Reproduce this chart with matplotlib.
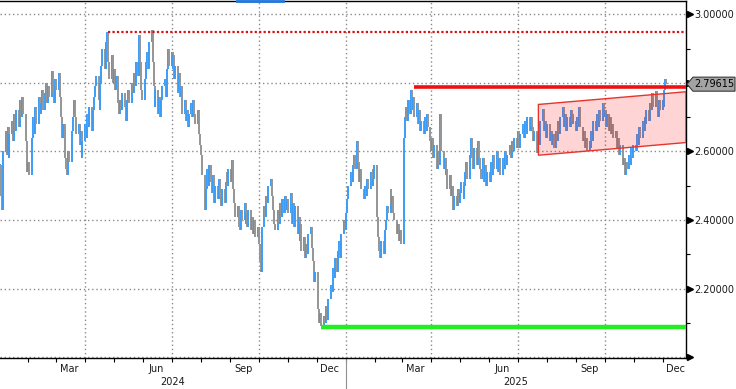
import matplotlib
matplotlib.use("Agg")
import matplotlib.pyplot as plt
import matplotlib.dates as mdates
from matplotlib.patches import Polygon
from matplotlib.lines import Line2D
from matplotlib.transforms import blended_transform_factory
import numpy as np
import pandas as pd
import datetime as dt

# ---------------- data (daily closes, business days) ----------------
close_2024 = [
    # Jan
    2.56, 2.47, 2.43, 2.60, 2.66, 2.59, 2.67, 2.58, 2.65, 2.69, 2.63, 2.71, 2.66, 2.72, 2.67, 2.75, 2.70, 2.76, 2.71, 2.63, 2.59, 2.54,
    # Feb
    2.57, 2.53, 2.64, 2.70, 2.65, 2.73, 2.68, 2.76, 2.71, 2.74, 2.78, 2.72, 2.77, 2.80, 2.74, 2.79, 2.76, 2.835, 2.77, 2.74, 2.81,
    # Mar
    2.78, 2.83, 2.76, 2.70, 2.64, 2.68, 2.58, 2.55, 2.53, 2.60, 2.57, 2.66, 2.70, 2.75, 2.70, 2.65, 2.68, 2.62, 2.66, 2.58, 2.63,
    # Apr
    2.68, 2.64, 2.71, 2.67, 2.73, 2.66, 2.72, 2.76, 2.79, 2.82, 2.75, 2.72, 2.80, 2.85, 2.90, 2.84, 2.92, 2.948, 2.86, 2.81, 2.88, 2.80,
    # May
    2.84, 2.78, 2.82, 2.74, 2.71, 2.75, 2.72, 2.77, 2.73, 2.69, 2.75, 2.78, 2.74, 2.80, 2.77, 2.83, 2.79, 2.86, 2.82, 2.94, 2.86, 2.78, 2.75,
    # Jun
    2.81, 2.86, 2.89, 2.84, 2.92, 2.955, 2.86, 2.79, 2.73, 2.78, 2.71, 2.76, 2.70, 2.75, 2.79, 2.81, 2.76, 2.84, 2.90, 2.85,
    # Jul
    2.89, 2.84, 2.88, 2.81, 2.85, 2.77, 2.83, 2.76, 2.79, 2.71, 2.75, 2.69, 2.72, 2.67, 2.71, 2.74, 2.70, 2.75, 2.71, 2.68, 2.72, 2.65, 2.62,
    # Aug
    2.59, 2.53, 2.43, 2.49, 2.55, 2.50, 2.56, 2.51, 2.48, 2.53, 2.45, 2.50, 2.46, 2.52, 2.47, 2.44, 2.49, 2.45, 2.51, 2.54, 2.50, 2.55,
    # Sep
    2.51, 2.575, 2.49, 2.45, 2.41, 2.44, 2.38, 2.37, 2.43, 2.40, 2.45, 2.39, 2.42, 2.38, 2.43, 2.37, 2.41, 2.36, 2.40, 2.35, 2.38,
    # Oct
    2.33, 2.28, 2.25, 2.38, 2.44, 2.41, 2.47, 2.45, 2.50, 2.52, 2.47, 2.43, 2.39, 2.37, 2.43, 2.39, 2.45, 2.41, 2.46, 2.42, 2.47, 2.43, 2.46,
    # Nov
    2.42, 2.48, 2.39, 2.45, 2.38, 2.44, 2.36, 2.41, 2.34, 2.39, 2.31, 2.35, 2.29, 2.33, 2.30, 2.36, 2.38, 2.32, 2.28, 2.22, 2.25,
    # Dec
    2.17, 2.14, 2.10, 2.13, 2.09, 2.12, 2.10, 2.15, 2.11, 2.17, 2.21, 2.19, 2.26, 2.23, 2.29, 2.25, 2.31, 2.34, 2.29, 2.36, 2.40, 2.37,
]
close_2025 = [
    # Jan
    2.42, 2.46, 2.50, 2.54, 2.51, 2.56, 2.59, 2.55, 2.63, 2.57, 2.51, 2.55, 2.49, 2.46, 2.50, 2.47, 2.52, 2.49, 2.54, 2.50, 2.55, 2.52, 2.56,
    # Feb
    2.41, 2.35, 2.31, 2.29, 2.34, 2.30, 2.37, 2.40, 2.44, 2.42, 2.49, 2.45, 2.47, 2.42, 2.40, 2.36, 2.39, 2.34, 2.37, 2.33,
    # Mar
    2.64, 2.70, 2.73, 2.69, 2.75, 2.71, 2.78, 2.72, 2.76, 2.70, 2.74, 2.68, 2.72, 2.66, 2.69, 2.65, 2.70, 2.66, 2.71, 2.67, 2.63,
    # Apr
    2.60, 2.64, 2.58, 2.62, 2.55, 2.60, 2.56, 2.71, 2.60, 2.55, 2.58, 2.53, 2.55, 2.49, 2.53, 2.47, 2.50, 2.43, 2.47, 2.44, 2.49, 2.45,
    # May
    2.48, 2.51, 2.46, 2.50, 2.54, 2.57, 2.52, 2.59, 2.64, 2.58, 2.55, 2.61, 2.56, 2.63, 2.58, 2.55, 2.52, 2.58, 2.51, 2.56, 2.50, 2.54,
    # Jun
    2.51, 2.57, 2.53, 2.59, 2.55, 2.60, 2.54, 2.58, 2.55, 2.53, 2.58, 2.55, 2.60, 2.56, 2.59, 2.62, 2.58, 2.63, 2.60, 2.64, 2.61,
    # Jul
    2.62, 2.66, 2.61, 2.65, 2.68, 2.64, 2.69, 2.65, 2.70, 2.66, 2.70, 2.67, 2.63, 2.66, 2.61, 2.595, 2.65, 2.62, 2.69, 2.725, 2.66, 2.69, 2.64,
    # Aug
    2.68, 2.63, 2.66, 2.62, 2.65, 2.61, 2.66, 2.63, 2.69, 2.65, 2.70, 2.73, 2.67, 2.71, 2.66, 2.70, 2.67, 2.72, 2.68, 2.71, 2.69,
    # Sep
    2.66, 2.70, 2.67, 2.73, 2.67, 2.63, 2.66, 2.61, 2.64, 2.60, 2.63, 2.61, 2.66, 2.63, 2.69, 2.66, 2.71, 2.67, 2.72, 2.69, 2.74, 2.70,
    # Oct
    2.72, 2.67, 2.71, 2.66, 2.70, 2.65, 2.68, 2.64, 2.66, 2.61, 2.64, 2.59, 2.62, 2.56, 2.58, 2.53, 2.57, 2.55, 2.59, 2.56, 2.61, 2.58, 2.62,
    # Nov
    2.60, 2.65, 2.62, 2.67, 2.64, 2.69, 2.66, 2.70, 2.68, 2.72, 2.69, 2.74, 2.72, 2.77, 2.73, 2.775, 2.73, 2.70, 2.75, 2.72,
    # Dec
    2.75, 2.73, 2.78, 2.81, 2.79615,
]

y_ticks = [2.0, 2.2, 2.4, 2.6, 2.8, 3.0]
y_labels_shown = ["", "2.20000", "2.40000", "2.60000", "", "3.00000"]
month_labels = ["Mar", "Jun", "Sep", "Dec"]
year_labels = ["2024", "2025"]

last_price = 2.79615
high_level = 2.9477            # red dotted
high_level_start = "2024-04-25"
resist_level = 2.788           # red solid
resist_start = "2025-03-14"
support_level = 2.087          # green
support_start = "2024-12-06"
chan_start = "2025-07-23"
chan_upper = [2.737, 2.774]
chan_lower = [2.589, 2.626]

# ---------------- figure ----------------
W, H = 736, 389
fig = plt.figure(figsize=(W / 100, H / 100), dpi=100)
fig.patch.set_facecolor("white")
ax = fig.add_axes([0, 1 - 358 / H, 686 / W, 357.5 / H])
ax.set_facecolor("white")

closes = np.array(close_2024 + close_2025)
dates = pd.bdate_range("2024-01-02", periods=len(closes))
xd = mdates.date2num(dates.to_pydatetime())
prev = np.concatenate([[closes[0]], closes[:-1]])
lo = np.minimum(prev, closes)
hi = np.maximum(prev, closes)
hi = np.where(hi - lo < 0.004, hi + 0.004, hi)
cols = np.where(closes >= prev, "#3a9cf7", "#959595")

x_left = mdates.date2num(dt.datetime(2024, 1, 2))
x_right = mdates.date2num(dt.datetime(2025, 12, 25, 17))
ax.set_xlim(x_left, x_right)
ax.set_ylim(1.998, 3.04)

grid_kw = dict(color="#8a8a8a", lw=1.0, ls=(0, (1, 2)), zorder=1)
for yv in y_ticks:
    ax.axhline(yv, **grid_kw)
quarters = [dt.datetime(2024, 4, 1), dt.datetime(2024, 7, 1), dt.datetime(2024, 10, 1),
            dt.datetime(2025, 1, 1), dt.datetime(2025, 4, 1), dt.datetime(2025, 7, 1),
            dt.datetime(2025, 10, 1)]
for q in quarters:
    ax.axvline(mdates.date2num(q), **grid_kw)

ax.vlines(xd, lo, hi, colors=cols, lw=1.4, zorder=3)

# channel
cs = mdates.date2num(pd.Timestamp(chan_start).to_pydatetime())
poly = Polygon([[cs, chan_upper[0]], [x_right, chan_upper[1]],
                [x_right, chan_lower[1]], [cs, chan_lower[0]]],
               closed=True, facecolor=(1, 0.0, 0.0, 0.17), edgecolor="#e8332c",
               lw=1.0, zorder=4)
ax.add_patch(poly)

def xnum(s):
    return mdates.date2num(pd.Timestamp(s).to_pydatetime())

ax.plot([xnum(high_level_start), x_right], [high_level] * 2, color="#e01010",
        lw=1.6, ls=(0, (1, 1)), zorder=5)
ax.plot([xnum(resist_start), x_right], [resist_level] * 2, color="#ee1111",
        lw=2.6, zorder=5, solid_capstyle="butt")
ax.plot([xnum(support_start), x_right], [support_level] * 2, color="#22ee22",
        lw=3.2, zorder=5, solid_capstyle="butt")

# spines
ax.spines["left"].set_visible(False)
for s in ["top", "right", "bottom"]:
    ax.spines[s].set_color("black")
    ax.spines[s].set_linewidth(1.0)

# y axis on right
ax.yaxis.tick_right()
ax.set_yticks(y_ticks)
ax.set_yticklabels(y_labels_shown, fontsize=7, color="#1a1a1a")
ax.set_yticks([2.1, 2.3, 2.5, 2.7, 2.9], minor=True)
ax.tick_params(axis="y", which="major", length=0, pad=6)
ax.tick_params(axis="y", which="minor", length=3, width=0.8, color="black", direction="out")

btrans = blended_transform_factory(ax.transAxes, ax.transData)
ax.plot([1.006] * len(y_ticks), y_ticks, ls="none", marker=">", ms=4, color="black",
        transform=btrans, clip_on=False, zorder=6)

# x axis
ax.xaxis.set_major_locator(mdates.MonthLocator())
ax.xaxis.set_major_formatter(plt.NullFormatter())
ax.tick_params(axis="x", which="major", length=3, width=0.8, color="black", direction="out")

xtrans = blended_transform_factory(ax.transData, ax.transAxes)
for yr in (2024, 2025):
    for m, name in zip([3, 6, 9, 12], month_labels):
        xm = mdates.date2num(dt.datetime(yr, m, 15))
        ax.text(xm, -0.031, name, transform=xtrans, ha="center", va="center",
                fontsize=7, color="#1a1a1a", clip_on=False)
y2025 = mdates.date2num(dt.datetime(2025, 1, 1))
ax.text((x_left + y2025) / 2, -0.068, year_labels[0], transform=xtrans, ha="center",
        va="center", fontsize=7, color="#1a1a1a", clip_on=False)
ax.text((y2025 + x_right) / 2, -0.068, year_labels[1], transform=xtrans, ha="center",
        va="center", fontsize=7, color="#1a1a1a", clip_on=False)
ax.plot([y2025, y2025], [0, -0.09], transform=xtrans, color="#909090", lw=0.8,
        clip_on=False)

# last price label
ptrans = blended_transform_factory(fig.transFigure, ax.transData)
dh = 7 / 342.0
px = lambda p: p / W
tag = Polygon([[px(687), last_price], [px(693), last_price + dh], [px(735), last_price + dh],
               [px(735), last_price - dh], [px(693), last_price - dh]],
              closed=True, facecolor="#a3a3a3", edgecolor="#3a3a3a", lw=0.8,
              transform=ptrans, clip_on=False, zorder=10)
fig.add_artist(tag)
t = fig.text(px(714), 0, f"{last_price:.5f}", ha="center", va="center",
             fontsize=7, color="black", zorder=11)
t.set_transform(ptrans)
t.set_position((px(714), last_price))

# small blue marker segment at top
fig.add_artist(Line2D([237 / W, 283 / W], [1 - 1 / H] * 2, color="#1f78e0", lw=2))

fig.savefig("out.png", dpi=100, facecolor="white")
